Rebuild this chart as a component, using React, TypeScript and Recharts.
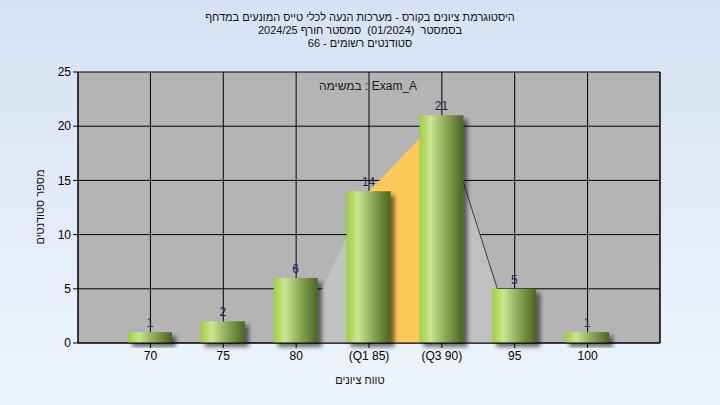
import {ComposedChart, Bar, Area, XAxis, YAxis, CartesianGrid, LabelList} from 'recharts'

const categories = ['70', '75', '80', '(Q1 85)', '(Q3 90)', '95', '100']
const counts = [1, 2, 6, 14, 21, 5, 1]
// box shape behind the bars: min -> Q1 -> Q3 -> max
const lowerWhisker = [null, null, 0, 14, null, null, null]
const boxBody = [null, null, null, 14, 21, null, null]
const upperWhisker = [null, null, null, null, 21, 0, null]
const yTicks = [0, 5, 10, 15, 20, 25]

const titleLines = [
    'היסטוגרמת ציונים בקורס - מערכות הנעה לכלי טייס המונעים במדחף',
    'בסמסטר  (01/2024)  סמסטר חורף 2024/25',
    'סטודנטים רשומים - 66',
]

const font = '"Liberation Sans", Arial, sans-serif'

const data = categories.map((c, i) => ({
    name: c,
    count: counts[i],
    low: lowerWhisker[i],
    box: boxBody[i],
    high: upperWhisker[i],
}))

function GreenBar(props: any) {
    const {x, y, width, height} = props
    if (!height || height <= 0) return null
    return (
        <g>
            <rect x={x} y={y} width={width} height={height} fill='url(#barGrad)' filter='url(#barShadow)' />
        </g>
    )
}

export default function App() {
    return (
        <div style={{position: 'absolute', left: 0, top: 0, width: 720, height: 405, fontFamily: font,
            background: 'linear-gradient(to bottom, #d6e2f3 0%, #eef5fd 100%)', overflow: 'hidden'}}>
            <svg width='0' height='0' style={{position: 'absolute'}}>
                <defs>
                    <linearGradient id='barGrad' x1='0' y1='0' x2='1' y2='0'>
                        <stop offset='0%' stopColor='#9fcf3c' />
                        <stop offset='25%' stopColor='#cbe593' />
                        <stop offset='55%' stopColor='#93b05e' />
                        <stop offset='100%' stopColor='#4a6421' />
                    </linearGradient>
                    <filter id='barShadow' x='-20%' y='-20%' width='160%' height='160%'>
                        <feDropShadow dx='4' dy='4' stdDeviation='2' floodColor='#000' floodOpacity='0.55' />
                    </filter>
                </defs>
            </svg>
            <div style={{position: 'absolute', top: 11, left: 0, width: 720, textAlign: 'center', direction: 'rtl',
                fontSize: 11, lineHeight: '13px', color: '#111'}}>
                {titleLines.map((t, i) => <div key={i} style={{whiteSpace: 'pre'}}>{t}</div>)}
            </div>
            <div style={{position: 'absolute', left: 40, top: 207, transform: 'translate(-50%, -50%) rotate(-90deg)',
                fontSize: 11, direction: 'rtl', whiteSpace: 'nowrap', color: '#111'}}>
                מספר סטודנטים
            </div>
            <div style={{position: 'absolute', left: 0, width: 720, top: 374, textAlign: 'center', fontSize: 11,
                direction: 'rtl', color: '#111'}}>
                טווח ציונים
            </div>
            <ComposedChart width={720} height={405} data={data}
                margin={{top: 72, left: 38, right: 20, bottom: 32}}>
                <CartesianGrid yAxisId='left' fill='#b4b4b4' fillOpacity={1} stroke='#000' strokeOpacity={1} />
                <XAxis dataKey='name' padding={{left: 36, right: 36}} height={30} tickSize={5}
                    tick={{fill: '#000', fontSize: 12, fontFamily: font}} stroke='#000' tickMargin={3} />
                <YAxis yAxisId='left' domain={[0, 25]} ticks={yTicks} width={40} tickSize={5}
                    tick={{fill: '#000', fontSize: 12, fontFamily: font}} stroke='#000' interval={0} />
                <YAxis yAxisId='right' orientation='right' domain={[0, 25]} ticks={yTicks} width={40} tickSize={5}
                    tick={{fill: '#000', fontSize: 12, fontFamily: font}} stroke='#000' interval={0} />
                <Area yAxisId='left' type='linear' dataKey='low' stroke='none' fill='#c2c2c2' fillOpacity={1}
                    isAnimationActive={false} dot={false} activeDot={false} />
                <Area yAxisId='left' type='linear' dataKey='box' stroke='none' fill='#fdca5a' fillOpacity={1}
                    isAnimationActive={false} dot={false} activeDot={false} />
                <Area yAxisId='left' type='linear' dataKey='high' stroke='#3a3a3a' strokeWidth={1} fill='#c0c0c0'
                    fillOpacity={1} isAnimationActive={false} dot={false} activeDot={false} />
                <Bar yAxisId='left' dataKey='count' barSize={44} shape={GreenBar} isAnimationActive={false}>
                    <LabelList dataKey='count' position='top' offset={5} fill='#1c2250' fontSize={12} fontFamily={font} />
                </Bar>
                <text x={368} y={90} textAnchor='middle' fontSize={12} fontFamily={font} fill='#1a1a2a'>
                    במשימה : Exam_A
                </text>
            </ComposedChart>
        </div>
    )
}
